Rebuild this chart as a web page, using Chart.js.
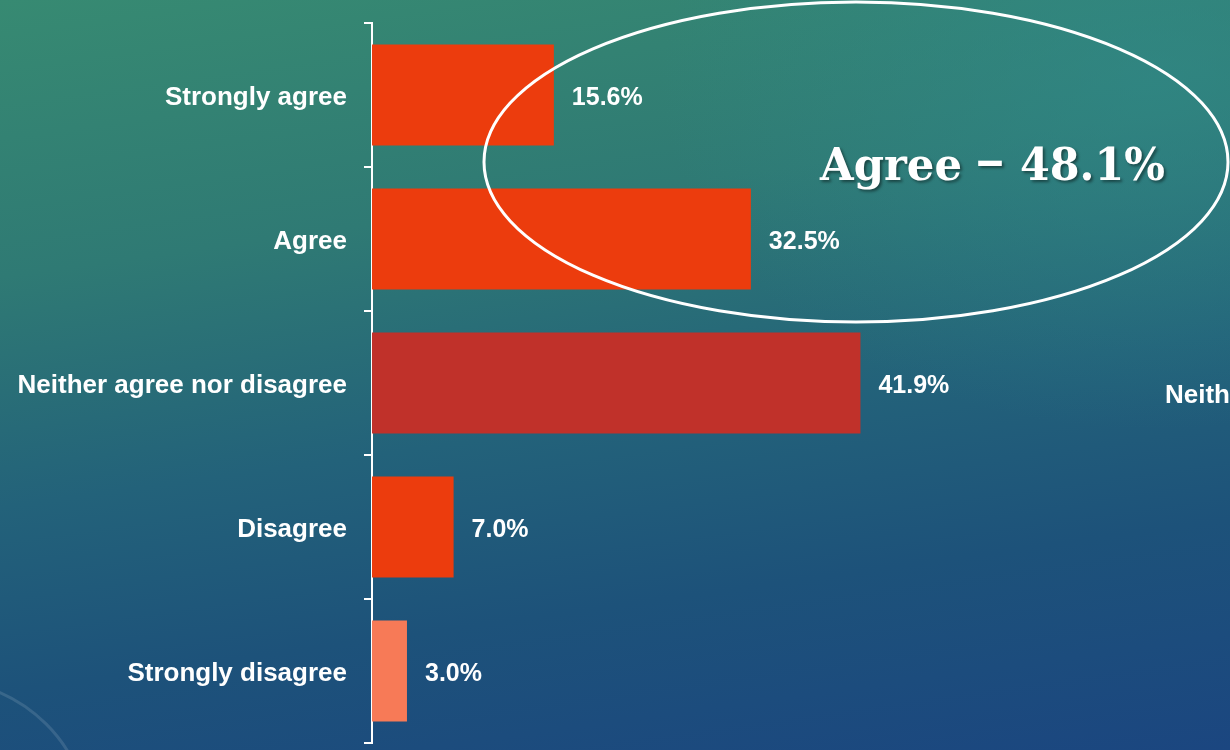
<!DOCTYPE html>
<html>
<head>
<meta charset="utf-8">
<script src="https://cdn.jsdelivr.net/npm/chart.js@4/dist/chart.umd.min.js"></script>
<style>
html,body{margin:0;padding:0;overflow:hidden;}
body{width:1230px;height:750px;
background:
 radial-gradient(ellipse 700px 500px at 1150px 80px, rgba(48,140,140,0.55), rgba(48,140,140,0) 70%),
 linear-gradient(172deg, #378a72 0%, #2f7a74 30%, #23627a 55%, #1d527a 75%, #1b4680 100%);}
canvas{display:block;}
</style>
</head>
<body>
<canvas id="c" width="1230" height="750"></canvas>
<script>
const categories = ["Strongly agree", "Agree", "Neither agree nor disagree", "Disagree", "Strongly disagree"];
const values = [15.6, 32.5, 41.9, 7.0, 3.0];
const valueLabels = ["15.6%", "32.5%", "41.9%", "7.0%", "3.0%"];
const barColors = ["#EC3C0D", "#EC3C0D", "#C0312A", "#EC3C0D", "#F77A57"];
const calloutText = "Agree \u2013 48.1%";
const cutText = "Neither agree nor disagree";

const labelFont = "bold 25px 'Liberation Sans', Arial, sans-serif";

const overlay = {
  id: 'overlay',
  beforeDraw(chart) {
    const ctx = chart.ctx;
    ctx.save();
    ctx.strokeStyle = 'rgba(255,255,255,0.12)';
    ctx.lineWidth = 3;
    ctx.beginPath();
    ctx.arc(-60, 830, 150, -Math.PI/2, 0);
    ctx.stroke();
    ctx.restore();
  },
  afterDatasetsDraw(chart) {
    const ctx = chart.ctx;
    const meta = chart.getDatasetMeta(0);
    ctx.save();
    ctx.fillStyle = '#ffffff';
    ctx.font = labelFont;
    ctx.textAlign = 'left';
    ctx.textBaseline = 'middle';
    meta.data.forEach((bar, i) => {
      ctx.fillText(valueLabels[i], bar.x + 18, bar.y + 3);
    });
    const nb = meta.data[2];
    ctx.font = "bold 26px 'Liberation Sans', Arial, sans-serif";
    ctx.fillText(cutText, 1165, nb.y + 13);
    ctx.strokeStyle = '#ffffff';
    ctx.lineWidth = 3;
    ctx.beginPath();
    ctx.ellipse(856, 162, 372, 160, 0, 0, Math.PI * 2);
    ctx.stroke();
    // callout text, drawn word by word
    ctx.font = "bold 44px 'DejaVu Serif', Georgia, serif";
    ctx.textAlign = 'left';
    ctx.textBaseline = 'alphabetic';
    ctx.shadowColor = 'rgba(0,0,0,0.45)';
    ctx.shadowOffsetX = 2;
    ctx.shadowOffsetY = 2;
    ctx.shadowBlur = 3;
    const parts = calloutText.split(' ');
    const spans = [[820, 142], [975, 30], [1020, 145]];
    parts.forEach((p, i) => {
      const w = ctx.measureText(p).width;
      ctx.save();
      ctx.translate(spans[i][0], i === 1 ? 175 : 180);
      ctx.scale(spans[i][1] / w, 1);
      ctx.fillText(p, 0, 0);
      ctx.restore();
    });
    ctx.restore();
  }
};

new Chart(document.getElementById('c'), {
  type: 'bar',
  data: {
    labels: categories,
    datasets: [{
      data: values,
      backgroundColor: barColors,
      borderWidth: 0,
      categoryPercentage: 1.0,
      barPercentage: 0.70
    }]
  },
  options: {
    indexAxis: 'y',
    responsive: false,
    animation: false,
    layout: { padding: { top: 23, bottom: 7, right: 0, left: 0 } },
    plugins: { legend: { display: false }, tooltip: { enabled: false } },
    scales: {
      x: { display: false, min: 0, max: 73.6 },
      y: {
        afterFit(scale) { scale.width = 372; scale.paddingTop = 0; scale.paddingBottom = 0; },
        border: { display: true, color: '#ffffff', width: 2 },
        grid: { display: true, drawOnChartArea: false, drawTicks: true, tickLength: 8, color: '#ffffff', lineWidth: 2, offset: true },
        ticks: { color: '#ffffff', font: { family: "'Liberation Sans', Arial, sans-serif", size: 26, weight: 'bold' }, padding: 17, labelOffset: 3 }
      }
    }
  },
  plugins: [overlay]
});
</script>
</body>
</html>
